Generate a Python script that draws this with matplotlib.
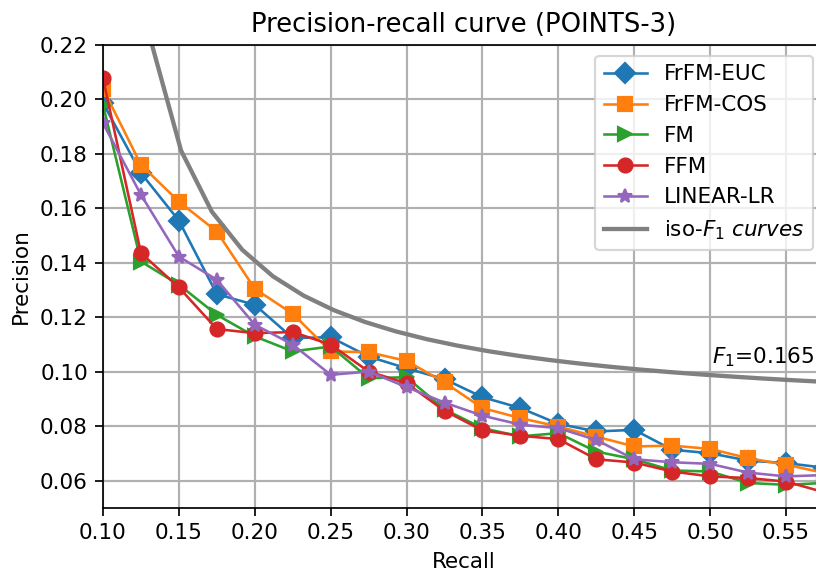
import matplotlib
matplotlib.use("Agg")
import matplotlib.pyplot as plt
import numpy as np

# Recall levels shared by all methods
recall = [0.100, 0.125, 0.150, 0.175, 0.200, 0.225, 0.250, 0.275, 0.300, 0.325,
          0.350, 0.375, 0.400, 0.425, 0.450, 0.475, 0.500, 0.525, 0.550, 0.575]

frfm_euc = [0.1987, 0.1730, 0.1555, 0.1285, 0.1246, 0.1124, 0.1127, 0.1056, 0.1013, 0.0973,
            0.0907, 0.0867, 0.0809, 0.0781, 0.0787, 0.0714, 0.0701, 0.0674, 0.0665, 0.0648]
frfm_cos = [0.2040, 0.1760, 0.1625, 0.1515, 0.1305, 0.1213, 0.1075, 0.1072, 0.1040, 0.0961,
            0.0867, 0.0830, 0.0799, 0.0762, 0.0726, 0.0729, 0.0717, 0.0683, 0.0659, 0.0629]
fm = [0.1980, 0.1405, 0.1320, 0.1209, 0.1130, 0.1075, 0.1093, 0.0977, 0.0980, 0.0862,
      0.0793, 0.0763, 0.0775, 0.0707, 0.0679, 0.0638, 0.0634, 0.0592, 0.0585, 0.0592]
ffm = [0.2078, 0.1436, 0.1310, 0.1157, 0.1142, 0.1146, 0.1100, 0.1001, 0.0958, 0.0857,
       0.0785, 0.0765, 0.0753, 0.0679, 0.0667, 0.0634, 0.0616, 0.0610, 0.0597, 0.0558]
linear_lr = [0.1913, 0.1650, 0.1423, 0.1338, 0.1173, 0.1100, 0.0989, 0.1001, 0.0944, 0.0887,
             0.0839, 0.0806, 0.0793, 0.0750, 0.0679, 0.0668, 0.0662, 0.0630, 0.0616, 0.0621]

f_score = 0.165

DPI = 155
fig = plt.figure(figsize=(816 / DPI, 571 / DPI), dpi=DPI)
# axes run slightly past the right edge, like the cropped original
ax = fig.add_axes([103 / 816, (571 - 508) / 571, 721 / 816, 463 / 571])

style = dict(markersize=6.5, linewidth=1.2)
ax.plot(recall, frfm_euc, marker="D", label="FrFM-EUC", **style)
ax.plot(recall, frfm_cos, marker="s", label="FrFM-COS", **style)
ax.plot(recall, fm, marker=">", label="FM", **style)
ax.plot(recall, ffm, marker="o", label="FFM", **style)
ax.plot(recall, linear_lr, marker="*", label="LINEAR-LR", **style)

# iso-F1 curve
x = np.linspace(0.01, 1)
y = f_score * x / (2 * x - f_score)
ax.plot(x[y >= 0], y[y >= 0], color="gray", linewidth=2, label=r"iso-$F_1$ $curves$")
ax.text(0.501, 0.1055, r"$F_1$=0.165", fontsize=10, va="center")

ax.set_xlim(0.1, 0.575)
ax.set_ylim(0.05, 0.22)
ax.set_xticks(np.arange(0.10, 0.551, 0.05))
ax.grid(True, linewidth=1)
ax.set_xlabel("Recall")
ax.set_ylabel("Precision")
ax.set_title("Precision-recall curve (POINTS-3)")
ax.legend(loc="upper right")

plt.savefig("out.png", dpi=DPI)
